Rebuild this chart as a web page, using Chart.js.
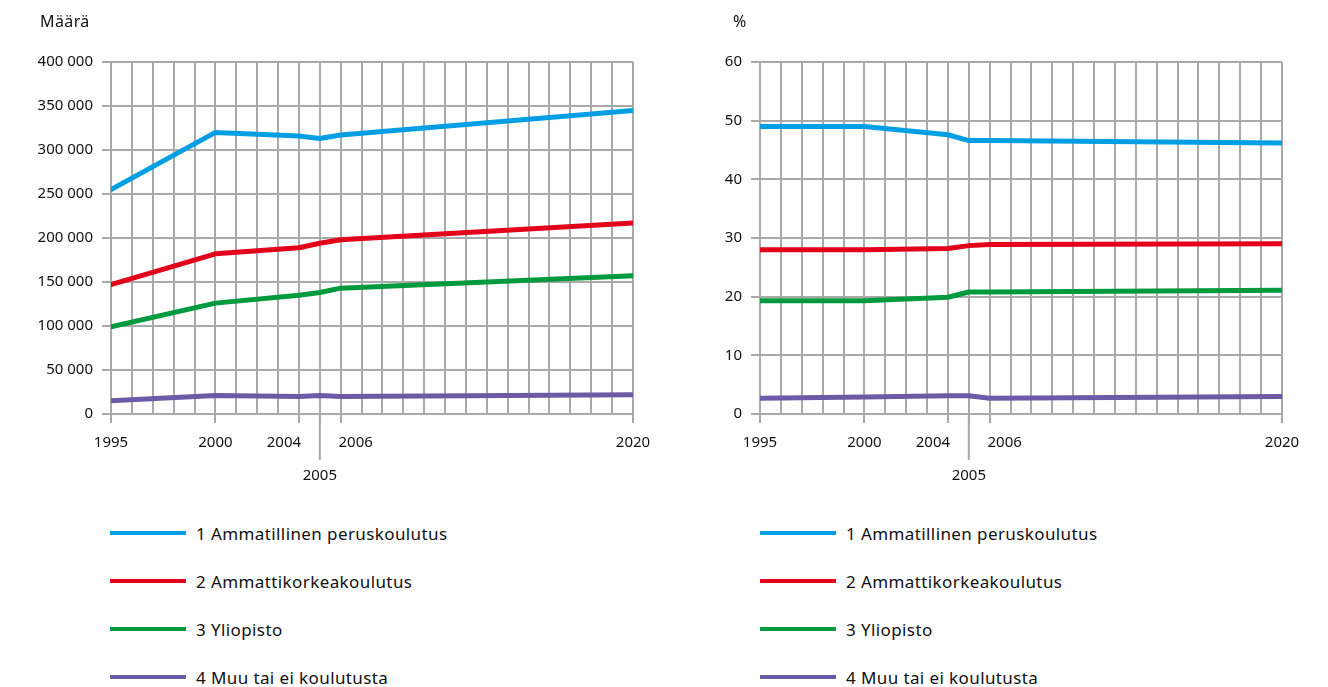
<!DOCTYPE html>
<html lang="fi">
<head>
<meta charset="UTF-8">
<title>Opiskelijat koulutussektoreittain</title>
<script src="https://cdn.jsdelivr.net/npm/chart.js@4"></script>
<style>
  body { margin: 0; background: #fff; font-family: 'Noto Sans', sans-serif; color: #111; }
  #page { position: relative; width: 1328px; height: 687px; overflow: hidden; }
  .panel { position: absolute; top: 0; width: 660px; height: 490px; }
  .unit { position: absolute; top: 10px; font-size: 16px; letter-spacing: 0.4px; }
  .legend { position: absolute; top: 509px; }
  .legend-item { display: flex; align-items: center; height: 48px; font-size: 17px; letter-spacing: 0.4px; }
  .legend-item span.swatch { display: inline-block; width: 76px; height: 4px; margin-right: 10px; }
</style>
</head>
<body>
<div id="page">
  <div class="panel" style="left:0"><canvas id="countChart"></canvas></div>
  <div class="panel" style="left:649px"><canvas id="shareChart"></canvas></div>
  <div class="unit" style="left:40px">Määrä</div>
  <div class="unit" style="left:733px">%</div>
  <div class="legend" id="legendLeft" style="left:110px"></div>
  <div class="legend" id="legendRight" style="left:760px"></div>
</div>
<script>
// Years with data points and the years that get a tick label
const years = [1995, 2000, 2004, 2005, 2006, 2020];
const labelledYears = [1995, 2000, 2004, 2005, 2006, 2020];

const seriesNames = [
  '1 Ammatillinen peruskoulutus',
  '2 Ammattikorkeakoulutus',
  '3 Yliopisto',
  '4 Muu tai ei koulutusta'
];
const seriesColors = ['#009fe3', '#e2001a', '#009a3e', '#6b5aa6'];

// Left panel: number of students
const countVocational = [255000, 320000, 316000, 313000, 317000, 345000];
const countPolytechnic = [147000, 182000, 189000, 194000, 198000, 217000];
const countUniversity = [99000, 126000, 135000, 138000, 143000, 157000];
const countOther = [15000, 21000, 20000, 21000, 20000, 22000];

// Right panel: share, %
const shareVocational = [49.0, 49.0, 47.6, 46.6, 46.6, 46.2];
const sharePolytechnic = [28.0, 28.0, 28.2, 28.7, 28.9, 29.0];
const shareUniversity = [19.3, 19.3, 19.9, 20.8, 20.8, 21.1];
const shareOther = [2.7, 2.9, 3.1, 3.1, 2.7, 3.0];

const gridGray = '#a9a9a9';

function toPoints(values) {
  return years.map((y, i) => ({ x: y, y: values[i] }));
}

function makeDatasets(list) {
  return list.map((values, i) => ({
    label: seriesNames[i],
    data: toPoints(values),
    borderColor: seriesColors[i],
    borderWidth: 5,
    pointRadius: 0,
    borderCapStyle: 'round',
    borderJoinStyle: 'round',
    tension: 0
  }));
}

// Longer tick below the axis for 2005
const longTick = {
  id: 'longTick',
  afterDraw(chart) {
    const x = chart.scales.x.getPixelForValue(2005);
    const ctx = chart.ctx;
    ctx.save();
    ctx.strokeStyle = gridGray;
    ctx.lineWidth = 2;
    ctx.beginPath();
    ctx.moveTo(x, chart.chartArea.bottom);
    ctx.lineTo(x, chart.chartArea.bottom + 46);
    ctx.stroke();
    ctx.restore();
  }
};

// 2004 and 2006 labels are nudged sideways so they clear the 2005 tick
function yearLabel(v) {
  if (!labelledYears.includes(v)) return '';
  if (v === 2005) return ['', '2005'];
  if (v === 2004) return '2004\u2003\u2003';
  if (v === 2006) return '\u2003\u20032006';
  return String(v);
}

function makeChart(id, datasets, yMax, yStep, fmt) {
  return new Chart(document.getElementById(id), {
    type: 'line',
    data: { datasets },
    plugins: [longTick],
    options: {
      responsive: true,
      maintainAspectRatio: false,
      animation: false,
      layout: { padding: { top: 62, right: 27, bottom: 0, left: 0 } },
      plugins: { legend: { display: false }, tooltip: { enabled: false } },
      scales: {
        x: {
          type: 'linear',
          min: 1995,
          max: 2020,
          afterBuildTicks(scale) {
            scale.ticks = [];
            for (let y = 1995; y <= 2020; y++) scale.ticks.push({ value: y });
          },
          afterFit(scale) { scale.height = 76; },
          border: { display: false },
          grid: {
            color: gridGray,
            lineWidth: 2,
            drawTicks: true,
            tickLength: 9,
            tickColor: c => labelledYears.includes(c.tick && c.tick.value) ? gridGray : 'rgba(0,0,0,0)'
          },
          ticks: {
            autoSkip: false,
            maxRotation: 0,
            color: '#111',
            font: { family: "'Noto Sans', sans-serif", size: 15, lineHeight: 2.15 },
            padding: 4,
            callback: yearLabel
          }
        },
        y: {
          min: 0,
          max: yMax,
          afterFit(scale) { scale.width = 111; },
          border: { display: false },
          grid: { color: gridGray, lineWidth: 2, tickLength: 9, tickColor: gridGray },
          ticks: {
            stepSize: yStep,
            color: '#111',
            font: { family: "'Noto Sans', sans-serif", size: 15 },
            padding: 9,
            callback: fmt
          }
        }
      }
    }
  });
}

const spaced = v => String(v).replace(/\B(?=(\d{3})+(?!\d))/g, ' ');

makeChart('countChart',
  makeDatasets([countVocational, countPolytechnic, countUniversity, countOther]),
  400000, 50000, spaced);
makeChart('shareChart',
  makeDatasets([shareVocational, sharePolytechnic, shareUniversity, shareOther]),
  60, 10, v => String(v));

// HTML legends, one per panel
['legendLeft', 'legendRight'].forEach(id => {
  const box = document.getElementById(id);
  seriesNames.forEach((name, i) => {
    const item = document.createElement('div');
    item.className = 'legend-item';
    const sw = document.createElement('span');
    sw.className = 'swatch';
    sw.style.background = seriesColors[i];
    item.appendChild(sw);
    item.appendChild(document.createTextNode(name));
    box.appendChild(item);
  });
});
</script>
</body>
</html>
